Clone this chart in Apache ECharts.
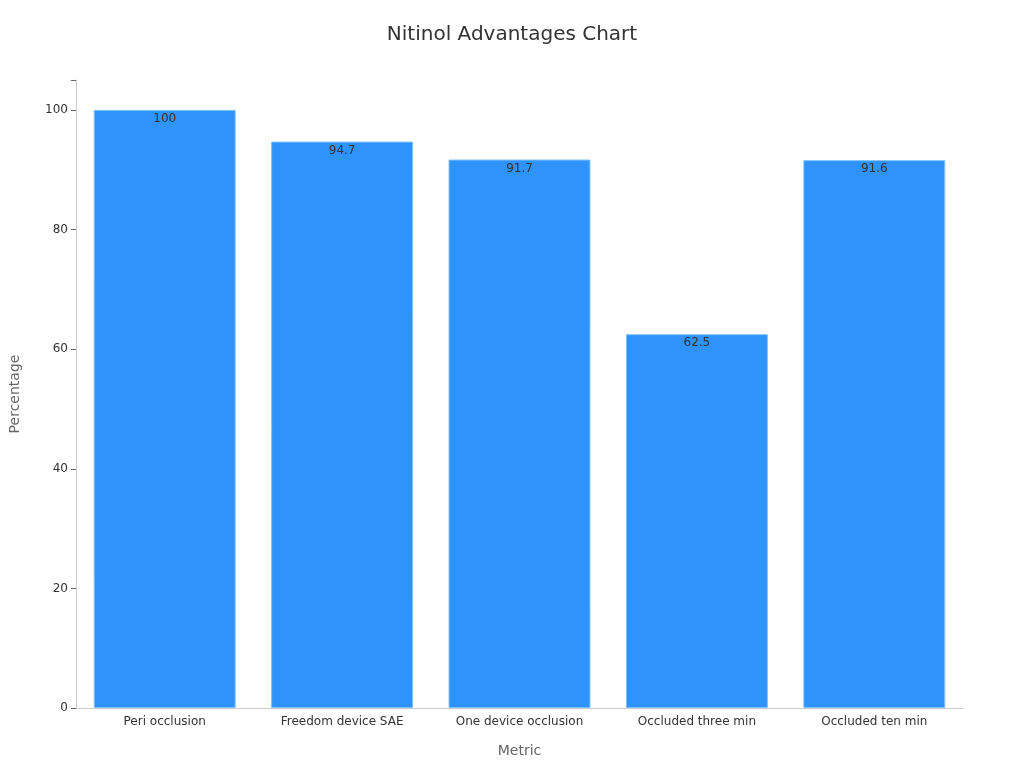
<!DOCTYPE html>
<html>
<head>
<meta charset="utf-8">
<script src="https://cdn.jsdelivr.net/npm/echarts@6/dist/echarts.min.js"></script>
<style>html,body{margin:0;padding:0;background:#fff}#chart{width:1024px;height:768px}</style>
</head>
<body>
<div id="chart"></div>
<script>
var categories = ['Peri occlusion', 'Freedom device SAE', 'One device occlusion', 'Occluded three min', 'Occluded ten min'];
var values = [100, 94.7, 91.7, 62.5, 91.6];
var yTicks = [0, 20, 40, 60, 80, 100];

var myChart = echarts.init(document.getElementById('chart'));
var font = 'DejaVu Sans';
var option = {
	textStyle: { fontFamily: font },
	title: {
		text: 'Nitinol Advantages Chart',
		left: 'center',
		top: 20,
		textStyle: { fontSize: 20, fontWeight: 'normal', color: '#333', fontFamily: font }
	},
	grid: { left: 68, right: 61, top: 80, bottom: 60 },
	xAxis: {
		type: 'category',
		data: categories,
		name: 'Metric',
		nameLocation: 'middle',
		nameGap: 36,
		nameTextStyle: { fontSize: 14, color: '#666' },
		axisLine: { lineStyle: { color: '#ccc' } },
		axisTick: { show: false },
		axisLabel: { color: '#333', fontSize: 12 }
	},
	yAxis: {
		type: 'value',
		min: 0,
		max: 105,
		interval: 20,
		name: 'Percentage',
		nameLocation: 'middle',
		nameGap: 54,
		nameTextStyle: { fontSize: 14, color: '#666' },
		axisLine: { show: true, lineStyle: { color: '#ccc' } },
		axisTick: { show: true, lineStyle: { color: '#666' } },
		splitLine: { show: false },
		axisLabel: {
			color: '#333', fontSize: 12,
			formatter: function (v) { return yTicks.indexOf(v) >= 0 ? v : ''; }
		}
	},
	series: [{
		type: 'bar',
		data: values,
		barWidth: '80%',
		itemStyle: { color: '#2E93FA', borderColor: '#7CC0FF', borderWidth: 1 },
		label: { show: true, position: 'insideTop', color: '#333', fontSize: 12, offset: [0, -2] }
	}]
};
myChart.setOption(option);
</script>
</body>
</html>
